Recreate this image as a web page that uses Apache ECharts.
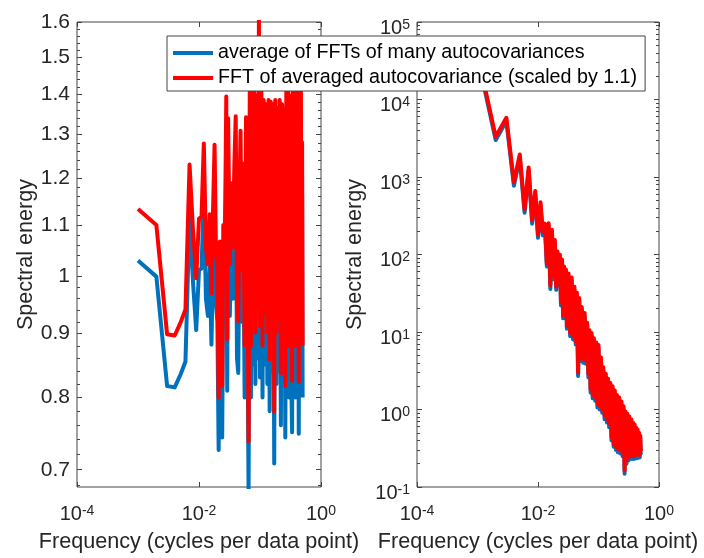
<!DOCTYPE html>
<html><head><meta charset="utf-8">
<script src="https://cdn.jsdelivr.net/npm/echarts@6/dist/echarts.min.js"></script>
<style>html,body{margin:0;padding:0;background:#fff}#c{width:704px;height:558px}</style>
</head><body><div id="c"></div>
<script>
// ---- data ----
const N_FFT = 1000; // frequency = index / N_FFT (cycles per data point)
const freqIndex = [
  1,2,3,4,5,6,7,8,9,10,
  11,12,13,14,15,16,17,18,19,20,
  21,22,23,24,25,26,27,28,29,30,
  32,34,36,38,40,42,44,46,48,50,
  53,56,59,62,65,68,71,74,77,80,
  84,88,92,96,100,105,110,115,120,126,
  132,138,144,150,157,164,171,178,186,194,
  202,210,220,230,240,250,260,270,280,290,
  300,312,324,336,348,360,372,384,396,408,
  420,432,444,456,468,480,490,500
];
// left panel: average of FFTs of many autocovariances
const leftAvgOfFFTs = [
  1.030,1.000,0.817,0.815,0.835,0.855,1.118,0.987,0.906,1.012,
  1.015,1.163,0.960,0.930,1.020,0.882,1.030,1.160,0.950,0.920,
  0.726,0.970,0.860,0.743,1.000,0.920,1.050,1.268,0.810,1.218,
  0.930,1.080,0.960,1.120,1.223,0.860,0.837,1.050,1.190,0.920,
  1.120,0.800,1.220,0.950,0.670,1.300,0.800,1.280,0.850,1.320,
  0.820,1.270,0.860,1.470,0.830,1.300,0.800,1.260,0.850,1.250,
  0.820,1.260,0.780,1.255,0.840,1.250,0.708,1.260,0.820,1.240,
  0.840,1.260,0.760,1.250,0.830,1.240,0.743,1.280,0.820,1.320,
  0.800,1.270,0.840,0.750,1.300,0.820,1.330,0.800,1.300,0.840,
  1.330,0.748,1.300,0.830,1.320,0.820,1.165,0.800
];
// left panel: FFT of averaged autocovariance (scaled by 1.1)
const leftFFTOfAvg = [
  1.133,1.100,0.899,0.897,0.919,0.941,1.230,1.086,0.997,1.113,
  1.117,1.279,1.056,1.023,1.122,0.970,1.133,1.276,1.045,1.012,
  0.799,1.067,0.946,0.817,1.100,1.012,1.155,1.395,0.891,1.340,
  1.023,1.188,1.056,1.232,1.345,0.946,0.921,1.155,1.309,1.012,
  1.232,0.880,1.342,1.045,0.737,1.430,0.880,1.408,0.935,1.452,
  0.902,1.397,0.946,1.617,0.913,1.430,0.880,1.386,0.935,1.375,
  0.902,1.386,0.858,1.381,0.924,1.375,0.779,1.386,0.902,1.364,
  0.924,1.386,0.836,1.375,0.913,1.364,0.817,1.408,0.902,1.452,
  0.880,1.397,0.924,0.825,1.430,0.902,1.463,0.880,1.430,0.924,
  1.463,0.823,1.430,0.913,1.452,0.902,1.282,0.880
];
// right panel: average of FFTs of many autocovariances
const rightAvgOfFFTs = [
  35500,3000,5270,770,1770,345,1210,250,600,164,
  430,177,227,70,230,36,190,48,140,35,
  99,40,90,22,78,15,64,20,58,11,
  52,8.8,46,8,35,6.9,29,2.7,25,4.2,
  19,4.0,16,3.9,12,2.6,9.5,1.66,8.8,1.4,
  7.5,1.3,6.6,1.06,6.2,1.0,4.3,0.91,3.2,0.75,
  2.6,0.68,2.3,0.59,2.0,0.40,1.85,0.33,1.6,0.30,
  1.4,0.28,1.3,0.27,1.15,0.25,1.0,0.148,0.85,0.20,
  0.80,0.22,0.74,0.23,0.68,0.23,0.62,0.23,0.58,0.235,
  0.53,0.235,0.50,0.24,0.46,0.24,0.42,0.26
];
// right panel: FFT of averaged autocovariance (scaled by 1.1)
const rightFFTOfAvg = [
  39000,3300,5800,850,1950,380,1330,275,660,180,
  473,195,250,77,253,40,209,53,154,38.5,
  109,44,99,24,86,16.5,70,22,64,12,
  57,9.7,50.6,8.8,38.5,7.6,32,3.0,27.5,4.6,
  21,4.4,17.6,4.3,13.2,2.9,10.5,1.83,9.7,1.54,
  8.3,1.43,7.3,1.17,6.8,1.1,4.7,1.0,3.5,0.83,
  2.9,0.75,2.5,0.65,2.2,0.44,2.0,0.36,1.76,0.33,
  1.54,0.31,1.43,0.30,1.27,0.275,1.1,0.163,0.94,0.22,
  0.88,0.24,0.81,0.25,0.75,0.25,0.68,0.25,0.64,0.26,
  0.58,0.26,0.55,0.26,0.5,0.26,0.46,0.29
];
const seriesNames = ['average of FFTs of many autocovariances', 'FFT of averaged autocovariance (scaled by 1.1)'];
const xTickValues = [1e-4, 1e-2, 1];
const leftYTickValues = [0.7, 0.8, 0.9, 1, 1.1, 1.2, 1.3, 1.4, 1.5, 1.6];
const rightYTickValues = [1e-1, 1e0, 1e1, 1e2, 1e3, 1e4, 1e5];
const xTitle = 'Frequency (cycles per data point)';
const yTitle = 'Spectral energy';

// ---- rendering ----
const FONT = "'Liberation Sans', Arial, Helvetica, sans-serif";
const TXT = '#262626';
const AXC = '#444444';
const BLUE = '#0072BD', RED = '#FF0000';

const leftYMinor = [];
for (let i = 68; i <= 158; i += 2) if (i % 10 !== 0) leftYMinor.push(i / 100);
const rightYMinor = [];
for (let e = -1; e <= 4; e++) for (let m = 2; m <= 9; m++) rightYMinor.push(m * Math.pow(10, e));

const RICH = {
  b: { fontSize: 20, fontFamily: FONT, color: TXT, verticalAlign: 'bottom', lineHeight: 20, padding: [8, 0, 0, 0] },
  s: { fontSize: 14, fontFamily: FONT, color: TXT, verticalAlign: 'top', lineHeight: 14 }
};
function expLabel(v) { return '{b|10}{s|' + Math.round(Math.log10(v)) + '}'; }
function pairs(vals) { return freqIndex.map((k, i) => [k / N_FFT, vals[i]]); }

const X_MIN = 0.99999e-4, X_MAX = 1.00001;
const grids = [
  { left: 77, top: 22, width: 244, height: 468, show: true, borderColor: AXC, borderWidth: 1, backgroundColor: 'transparent' },
  { left: 417, top: 22, width: 242, height: 468, show: true, borderColor: AXC, borderWidth: 1, backgroundColor: 'transparent' }
];
const tickStyle = { color: AXC, width: 1 };
const TITLE_STYLE = { fontSize: 21.6, fontFamily: FONT, color: TXT };
const xAxes = [], yAxes = [];
[0, 1].forEach(gi => {
  xAxes.push({
    type: 'log', gridIndex: gi, min: X_MIN, max: X_MAX, position: 'bottom',
    axisLine: { show: false, onZero: false }, splitLine: { show: false },
    axisTick: { show: true, inside: true, length: 5, customValues: xTickValues, lineStyle: tickStyle },
    axisLabel: { show: true, customValues: xTickValues, formatter: expLabel, rich: RICH, margin: 17 },
    name: xTitle, nameLocation: 'middle', nameGap: 44,
    nameTextStyle: TITLE_STYLE
  });
  xAxes.push({
    type: 'log', gridIndex: gi, min: X_MIN, max: X_MAX, position: 'top',
    axisLine: { show: false, onZero: false }, splitLine: { show: false },
    axisTick: { show: true, inside: true, length: 5, customValues: xTickValues, lineStyle: tickStyle },
    axisLabel: { show: false }
  });
});
function yPack(gi, min, max, major, minor, labelCfg, nameGap) {
  yAxes.push({
    type: 'log', gridIndex: gi, min: min, max: max, position: 'left',
    axisLine: { show: false, onZero: false }, splitLine: { show: false },
    axisTick: { show: true, inside: true, length: 5, customValues: major, lineStyle: tickStyle },
    axisLabel: Object.assign({ show: true, customValues: major, margin: 7 }, labelCfg),
    name: yTitle, nameLocation: 'middle', nameGap: nameGap,
    nameTextStyle: TITLE_STYLE
  });
  yAxes.push({
    type: 'log', gridIndex: gi, min: min, max: max, position: 'left',
    axisLine: { show: false, onZero: false }, splitLine: { show: false },
    axisTick: { show: true, inside: true, length: 3, customValues: minor, lineStyle: tickStyle },
    axisLabel: { show: false }
  });
  yAxes.push({
    type: 'log', gridIndex: gi, min: min, max: max, position: 'right',
    axisLine: { show: false, onZero: false }, splitLine: { show: false },
    axisTick: { show: true, inside: true, length: 5, customValues: major, lineStyle: tickStyle },
    axisLabel: { show: false }
  });
  yAxes.push({
    type: 'log', gridIndex: gi, min: min, max: max, position: 'right',
    axisLine: { show: false, onZero: false }, splitLine: { show: false },
    axisTick: { show: true, inside: true, length: 3, customValues: minor, lineStyle: tickStyle },
    axisLabel: { show: false }
  });
}
yPack(0, 0.678, 1.6005, leftYTickValues, leftYMinor,
  { formatter: v => String(Math.round(v * 10) / 10), fontSize: 21, fontFamily: FONT, color: TXT }, 40);
yPack(1, 0.099999, 100001, rightYTickValues, rightYMinor,
  { formatter: expLabel, rich: RICH, padding: [12, 0, 0, 0] }, 51);

function line(name, color, gi, vals) {
  return {
    type: 'line', name: name, xAxisIndex: gi * 2, yAxisIndex: gi * 4,
    data: pairs(vals), showSymbol: false, symbol: 'none', clip: true, silent: true,
    color: color, itemStyle: { color: color },
    lineStyle: { color: color, width: 4, join: 'round', cap: 'butt' }, z: 3
  };
}

const option = {
  animation: false,
  backgroundColor: '#ffffff',
  grid: grids,
  xAxis: xAxes,
  yAxis: yAxes,
  legend: {
    data: seriesNames, orient: 'vertical', left: 167, top: 36,
    icon: 'rect', itemWidth: 40, itemHeight: 4, itemGap: 5, itemTextGap: 5,
    padding: [7, 8, 3, 6], backgroundColor: '#ffffff', borderColor: AXC, borderWidth: 1,
    borderRadius: 0, selectedMode: false, z: 20,
    textStyle: { fontSize: 19.7, fontFamily: FONT, color: '#000' }
  },
  series: [
    line(seriesNames[0], BLUE, 0, leftAvgOfFFTs),
    line(seriesNames[1], RED, 0, leftFFTOfAvg),
    line(seriesNames[0], BLUE, 1, rightAvgOfFFTs),
    line(seriesNames[1], RED, 1, rightFFTOfAvg)
  ]
};
const chart = echarts.init(document.getElementById('c'));
chart.setOption(option);
</script>
</body></html>
